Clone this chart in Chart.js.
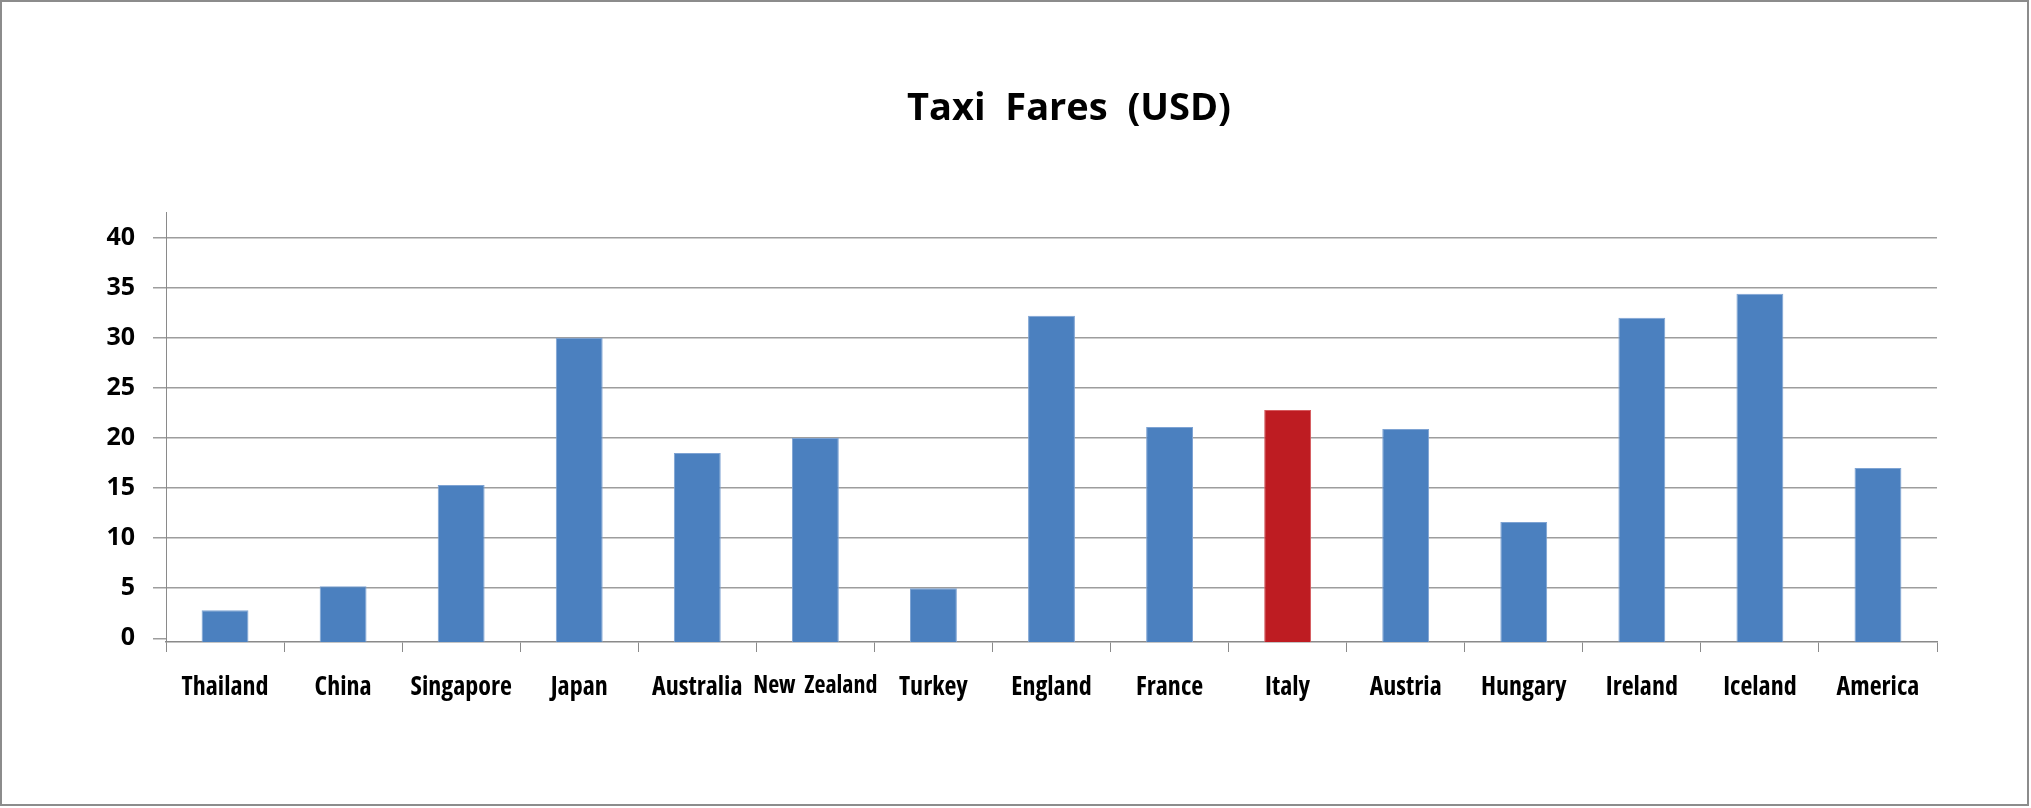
<!DOCTYPE html>
<html>
<head>
<meta charset="utf-8">
<script src="https://cdn.jsdelivr.net/npm/chart.js@4"></script>
<style>
  html, body { margin: 0; padding: 0; background: #ffffff; }
  #wrap { width: 2031px; height: 808px; position: relative; }
</style>
</head>
<body>
<div id="wrap"><canvas id="c" width="2031" height="808"></canvas></div>
<script>
// ---- data ----
const categories = ['Thailand', 'China', 'Singapore', 'Japan', 'Australia', 'New  Zealand', 'Turkey', 'England', 'France', 'Italy', 'Austria', 'Hungary', 'Ireland', 'Iceland', 'America'];
const fares = [2.8, 5.2, 15.3, 30.0, 18.5, 20.0, 5.0, 32.2, 21.1, 22.8, 20.9, 11.6, 32.0, 34.4, 17.0];
const highlightCategory = 'Italy';
const squeezedLabel = 'New  Zealand';
const yTickValues = [0, 5, 10, 15, 20, 25, 30, 35, 40];
const titleText = 'Taxi  Fares  (USD)';

// ---- styles ----
const blue = '#4b80bf';
const blueEdge = '#7ea3d3';
const red = '#be1c22';
const redEdge = '#d65a5e';
const axisFloor = -0.37;   // axis line sits slightly below the 0 gridline, as in the original
const axisCeil = 42.5;
const titleCenterX = 1069;

const frame = {
  id: 'frame',
  afterLayout(chart) {
    const t = chart.titleBlock;
    if (t) {
      const shift = titleCenterX - (t.left + t.right) / 2;
      t.left += shift;
      t.right += shift;
    }
  },
  beforeDraw(chart) {
    const ctx = chart.ctx;
    ctx.save();
    ctx.fillStyle = '#ffffff';
    ctx.fillRect(0, 0, chart.width, chart.height);
    ctx.restore();
  },
  afterDraw(chart) {
    const ctx = chart.ctx;
    ctx.save();
    ctx.strokeStyle = '#8c8c8c';
    ctx.lineWidth = 2;
    ctx.strokeRect(1, 1, chart.width - 4, chart.height - 4);
    ctx.restore();
  }
};

new Chart(document.getElementById('c'), {
  type: 'bar',
  data: {
    labels: categories,
    datasets: [{
      data: fares,
      base: axisFloor,
      backgroundColor: categories.map(c => c === highlightCategory ? red : blue),
      borderColor: categories.map(c => c === highlightCategory ? redEdge : blueEdge),
      borderWidth: 1,
      borderSkipped: 'bottom',
      categoryPercentage: 1,
      barPercentage: 0.397
    }]
  },
  options: {
    responsive: false,
    animation: false,
    layout: { padding: { left: 60, right: 94, top: 40, bottom: 0 } },
    plugins: {
      legend: { display: false },
      tooltip: { enabled: false },
      title: {
        display: true,
        text: titleText,
        color: '#000000',
        font: { family: '"Open Sans", "DejaVu Sans", sans-serif', size: 38, weight: 'bold' },
        padding: { top: 46, bottom: 81 }
      }
    },
    scales: {
      x: {
        offset: true,
        grid: {
          offset: true,
          drawOnChartArea: false,
          drawTicks: true,
          tickLength: 10,
          color: '#8a8a8a',
          lineWidth: 1
        },
        border: { display: true, color: '#8a8a8a', width: 1.5 },
        ticks: {
          color: '#000000',
          padding: 20,
          maxRotation: 0,
          autoSkip: false,
          font: ctx => ({
            family: '"Open Sans", sans-serif',
            size: (ctx.tick && ctx.tick.label === squeezedLabel) ? 24 : 26,
            weight: 'bold condensed'
          })
        },
        afterFit(scale) { scale.height = 166; }
      },
      y: {
        min: axisFloor,
        max: axisCeil,
        afterBuildTicks(scale) {
          scale.ticks = yTickValues.map(v => ({ value: v }));
        },
        grid: {
          color: ctx => (ctx.tick && ctx.tick.value === 0) ? 'rgba(0,0,0,0)' : '#9d9d9d',
          tickColor: '#9d9d9d',
          lineWidth: 1.5,
          tickLength: 13,
          drawTicks: true
        },
        border: { display: true, color: '#8a8a8a', width: 1 },
        ticks: {
          color: '#000000',
          padding: 18,
          font: { family: '"Open Sans", "DejaVu Sans", sans-serif', size: 25, weight: 'bold' },
          callback: v => String(v)
        },
        afterFit(scale) { scale.width = 106; }
      }
    }
  },
  plugins: [frame]
});
</script>
</body>
</html>
